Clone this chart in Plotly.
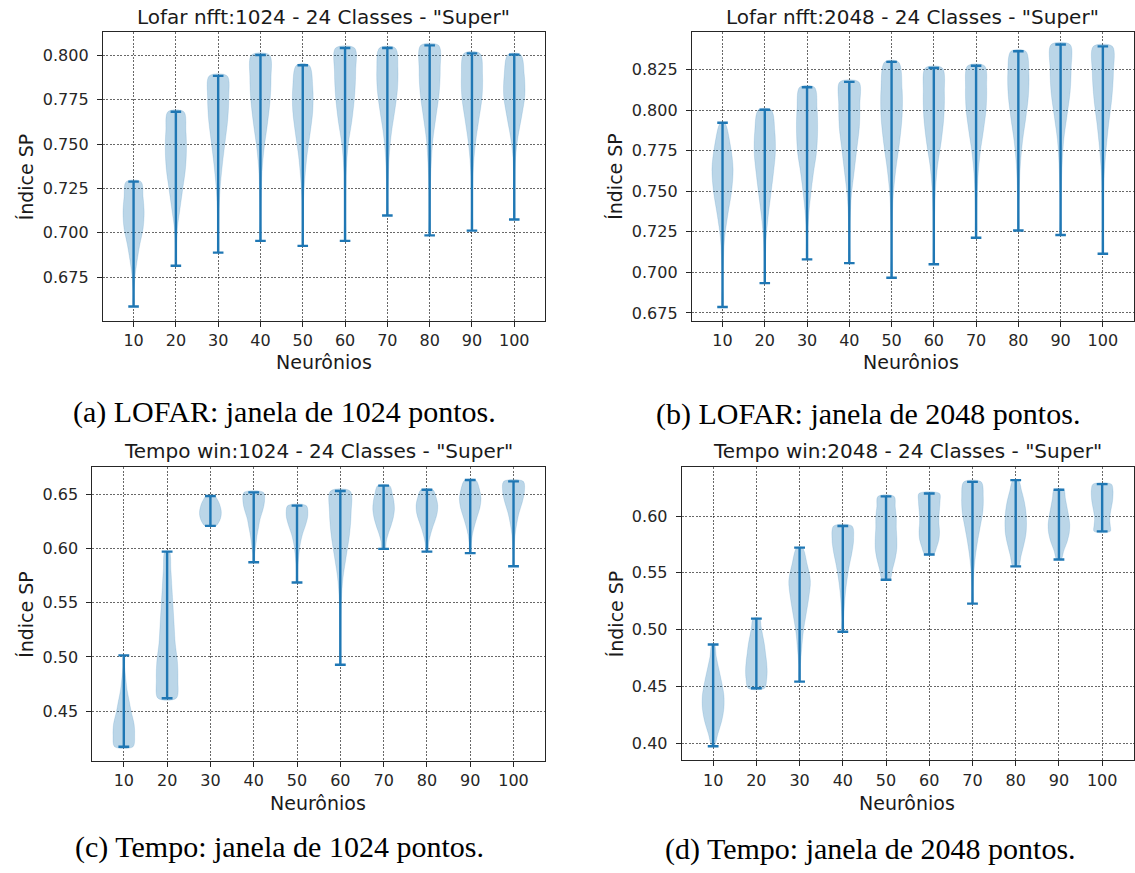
import plotly.graph_objects as go

# ---------------- data ----------------
NEURONS = ["10", "20", "30", "40", "50", "60", "70", "80", "90", "100"]
POSITIONS = [1, 2, 3, 4, 5, 6, 7, 8, 9, 10]

# (a) Lofar nfft:1024
A_MIN = [0.6584, 0.6814, 0.6888, 0.6954, 0.6926, 0.6954, 0.7097, 0.6985, 0.7012, 0.7075]
A_MAX = [0.7288, 0.7682, 0.7884, 0.8002, 0.7944, 0.8041, 0.8041, 0.8056, 0.8011, 0.8004]
# relative half-widths at 9 evenly spaced levels from min (first) to max (last)
A_SHAPE = [
    [0.03, 0.05, 0.15, 0.35, 0.60, 0.90, 1.00, 0.90, 0.70],
    [0.03, 0.05, 0.15, 0.40, 0.65, 0.90, 1.00, 0.95, 0.75],
    [0.03, 0.04, 0.08, 0.20, 0.40, 0.65, 0.90, 1.00, 0.85],
    [0.03, 0.04, 0.07, 0.15, 0.35, 0.65, 0.90, 1.00, 0.85],
    [0.03, 0.04, 0.07, 0.20, 0.40, 0.70, 0.95, 0.95, 0.60],
    [0.03, 0.04, 0.06, 0.12, 0.30, 0.65, 0.90, 1.00, 0.90],
    [0.03, 0.05, 0.10, 0.20, 0.40, 0.70, 0.95, 1.00, 0.75],
    [0.03, 0.04, 0.06, 0.15, 0.30, 0.60, 0.90, 1.00, 0.85],
    [0.03, 0.04, 0.06, 0.15, 0.35, 0.65, 0.95, 1.00, 0.75],
    [0.03, 0.04, 0.06, 0.12, 0.35, 0.70, 1.00, 0.95, 0.60],
]

# (b) Lofar nfft:2048
B_MIN = [0.6787, 0.6934, 0.7080, 0.7057, 0.6967, 0.7050, 0.7213, 0.7258, 0.7230, 0.7115]
B_MAX = [0.7922, 0.8002, 0.8141, 0.8174, 0.8297, 0.8260, 0.8273, 0.8363, 0.8404, 0.8393]
B_SHAPE = [
    [0.03, 0.04, 0.08, 0.20, 0.50, 0.85, 1.00, 0.75, 0.20],
    [0.03, 0.05, 0.12, 0.30, 0.55, 0.80, 1.00, 0.95, 0.60],
    [0.03, 0.05, 0.15, 0.35, 0.60, 0.90, 1.00, 0.95, 0.70],
    [0.03, 0.04, 0.08, 0.20, 0.45, 0.70, 0.95, 1.00, 0.90],
    [0.03, 0.04, 0.06, 0.15, 0.40, 0.75, 1.00, 1.00, 0.65],
    [0.03, 0.04, 0.07, 0.15, 0.35, 0.70, 0.95, 1.00, 0.80],
    [0.03, 0.05, 0.10, 0.20, 0.40, 0.70, 0.95, 1.00, 0.80],
    [0.03, 0.05, 0.10, 0.20, 0.40, 0.70, 0.95, 1.00, 0.70],
    [0.03, 0.04, 0.07, 0.15, 0.30, 0.60, 0.90, 1.00, 0.90],
    [0.03, 0.04, 0.06, 0.12, 0.30, 0.55, 0.85, 1.00, 0.90],
]

# (c) Tempo win:1024
C_MIN = [0.4172, 0.4620, 0.6209, 0.5874, 0.5687, 0.4929, 0.5997, 0.5972, 0.5958, 0.5837]
C_MAX = [0.5015, 0.5972, 0.6485, 0.6518, 0.6396, 0.6531, 0.6580, 0.6542, 0.6632, 0.6620]
C_SHAPE = [
    [0.85, 1.00, 0.95, 0.70, 0.50, 0.30, 0.18, 0.08, 0.04],
    [0.85, 1.00, 0.95, 0.75, 0.65, 0.55, 0.45, 0.35, 0.20],
    [0.50, 0.78, 0.93, 1.00, 1.00, 0.93, 0.82, 0.65, 0.40],
    [0.06, 0.10, 0.20, 0.30, 0.45, 0.60, 0.85, 1.00, 0.90],
    [0.04, 0.06, 0.10, 0.18, 0.30, 0.50, 0.80, 1.00, 0.85],
    [0.03, 0.04, 0.06, 0.10, 0.25, 0.55, 0.85, 1.00, 0.90],
    [0.15, 0.25, 0.45, 0.70, 0.90, 1.00, 0.95, 0.80, 0.55],
    [0.08, 0.15, 0.30, 0.50, 0.75, 0.95, 1.00, 0.85, 0.55],
    [0.05, 0.10, 0.20, 0.40, 0.65, 0.90, 1.00, 0.85, 0.50],
    [0.03, 0.05, 0.08, 0.15, 0.30, 0.50, 0.80, 1.00, 0.90],
]

# (d) Tempo win:2048
D_MIN = [0.3971, 0.4482, 0.4541, 0.4980, 0.5439, 0.5661, 0.5228, 0.5556, 0.5617, 0.5865]
D_MAX = [0.4868, 0.5096, 0.5722, 0.5912, 0.6173, 0.6199, 0.6301, 0.6316, 0.6231, 0.6281]
D_SHAPE = [
    [0.10, 0.45, 0.80, 1.00, 1.00, 0.80, 0.55, 0.30, 0.12],
    [0.75, 0.95, 1.00, 0.95, 0.85, 0.75, 0.60, 0.45, 0.30],
    [0.04, 0.08, 0.20, 0.35, 0.60, 0.85, 1.00, 0.70, 0.25],
    [0.05, 0.08, 0.15, 0.25, 0.40, 0.60, 0.85, 1.00, 0.85],
    [0.35, 0.60, 0.85, 1.00, 1.00, 0.95, 0.95, 0.85, 0.75],
    [0.40, 0.70, 0.90, 0.95, 0.90, 0.90, 0.95, 1.00, 0.95],
    [0.04, 0.06, 0.12, 0.25, 0.45, 0.70, 0.95, 1.00, 0.80],
    [0.25, 0.50, 0.75, 0.95, 1.00, 0.95, 0.80, 0.55, 0.25],
    [0.20, 0.45, 0.75, 0.95, 1.00, 0.90, 0.75, 0.60, 0.45],
    [0.75, 0.75, 0.70, 0.75, 0.85, 0.95, 1.00, 1.00, 0.85],
]

TITLES = ['Lofar nfft:1024 - 24 Classes - "Super"',
          'Lofar nfft:2048 - 24 Classes - "Super"',
          'Tempo win:1024 - 24 Classes - "Super"',
          'Tempo win:2048 - 24 Classes - "Super"']
CAPTIONS = ["(a) LOFAR: janela de 1024 pontos.",
            "(b) LOFAR: janela de 2048 pontos.",
            "(c) Tempo: janela de 1024 pontos.",
            "(d) Tempo: janela de 2048 pontos."]
X_LABEL = "Neurônios"
Y_LABEL = "Índice SP"

# ---------------- layout / style ----------------
W, H = 1135, 873
BLUE = "#1f77b4"
FILL = "rgba(31,119,180,0.3)"
SANS = "DejaVu Sans"
SERIF = "Liberation Serif"

PANELS = [
    dict(mins=A_MIN, maxs=A_MAX, shape=A_SHAPE, box=(103, 545.4, 32.3, 321.3),
         yr=[0.6505, 0.8130], dtick=0.025, fmt=".3f", t0=0.675,
         title_y=17, xlab=(324, 363), ylab=(26, 176.8), cap=(285, 413)),
    dict(mins=B_MIN, maxs=B_MAX, shape=B_SHAPE, box=(692.5, 1134.5, 32.3, 321.3),
         yr=[0.6703, 0.8480], dtick=0.025, fmt=".3f", t0=0.675,
         title_y=17, xlab=(912, 363), ylab=(616, 176.8), cap=(869, 415)),
    dict(mins=C_MIN, maxs=C_MAX, shape=C_SHAPE, box=(92.5, 545.4, 468.3, 762.3),
         yr=[0.4045, 0.6750], dtick=0.05, fmt=".2f", t0=0.45,
         title_y=452, xlab=(318, 805), ylab=(26, 615.3), cap=(280, 849)),
    dict(mins=D_MIN, maxs=D_MAX, shape=D_SHAPE, box=(682.4, 1134.5, 468.3, 762.0),
         yr=[0.3848, 0.6430], dtick=0.05, fmt=".2f", t0=0.40,
         title_y=452, xlab=(908, 805), ylab=(616, 615.3), cap=(871, 851)),
]

VIOLIN_HALF = 0.25   # matplotlib default width 0.5
CAP_HALF = 0.125

fig = go.Figure()
layout = dict(width=W, height=H, margin=dict(l=0, r=0, t=0, b=0),
              paper_bgcolor="white", plot_bgcolor="white", showlegend=False,
              font=dict(family=SANS, color="#262626"))
annotations = []


def px_x(v):
    return v / W


def px_y(v):
    return 1 - v / H


for i, p in enumerate(PANELS):
    k = "" if i == 0 else str(i + 1)
    xa, ya = "x" + k, "y" + k
    x0, x1, y0, y1 = p["box"]

    # violin bodies
    for pos, lo, hi, prof in zip(POSITIONS, p["mins"], p["maxs"], p["shape"]):
        n = len(prof)
        ys = [lo + (hi - lo) * j / (n - 1) for j in range(n)]
        xr = [pos + VIOLIN_HALF * w for w in prof]
        xl = [pos - VIOLIN_HALF * w for w in prof]
        fig.add_trace(go.Scatter(
            x=xr + xl[::-1] + [xr[0]], y=ys + ys[::-1] + [ys[0]],
            mode="lines", fill="toself", fillcolor=FILL,
            line=dict(color="rgba(31,119,180,0.25)", width=0.6, shape="spline", smoothing=0.9),
            hoverinfo="skip", xaxis=xa, yaxis=ya))

    # extrema bars
    ex, ey = [], []
    for pos, lo, hi in zip(POSITIONS, p["mins"], p["maxs"]):
        ex += [pos, pos, None, pos - CAP_HALF, pos + CAP_HALF, None, pos - CAP_HALF, pos + CAP_HALF, None]
        ey += [lo, hi, None, hi, hi, None, lo, lo, None]
    fig.add_trace(go.Scatter(x=ex, y=ey, mode="lines", line=dict(color=BLUE, width=2.4),
                             hoverinfo="skip", xaxis=xa, yaxis=ya))

    axis_common = dict(showgrid=True, gridcolor="rgba(40,40,40,0.7)", gridwidth=0.8,
                       griddash="2px,1.5px", showline=True, linecolor="#262626", linewidth=1.2,
                       mirror=True, ticks="outside", ticklen=5, tickwidth=1.2, tickcolor="#262626",
                       tickfont=dict(family=SANS, size=16, color="#262626"), zeroline=False,
                       fixedrange=True)
    layout["xaxis" + k] = dict(axis_common, domain=[px_x(x0), px_x(x1)], range=[0.275, 10.725],
                               tickmode="array", tickvals=POSITIONS, ticktext=NEURONS,
                               anchor=ya, ticklabelstandoff=0)
    layout["yaxis" + k] = dict(axis_common, domain=[px_y(y1), px_y(y0)], range=p["yr"],
                               tick0=p["t0"], dtick=p["dtick"], tickformat=p["fmt"],
                               anchor=xa, ticklabelstandoff=5)

    cx = (x0 + x1) / 2
    annotations.append(dict(text=TITLES[i], x=px_x(cx), y=px_y(p["title_y"]), xref="paper", yref="paper",
                            xanchor="center", yanchor="middle", showarrow=False,
                            font=dict(family=SANS, size=20, color="#1a1a1a")))
    annotations.append(dict(text=X_LABEL, x=px_x(p["xlab"][0]), y=px_y(p["xlab"][1]), xref="paper",
                            yref="paper", xanchor="center", yanchor="middle", showarrow=False,
                            font=dict(family=SANS, size=19, color="#1a1a1a")))
    annotations.append(dict(text=Y_LABEL, x=px_x(p["ylab"][0]), y=px_y(p["ylab"][1]), xref="paper",
                            yref="paper", xanchor="center", yanchor="middle", textangle=-90,
                            showarrow=False, font=dict(family=SANS, size=19, color="#1a1a1a")))
    annotations.append(dict(text=CAPTIONS[i], x=px_x(p["cap"][0]), y=px_y(p["cap"][1]), xref="paper",
                            yref="paper", xanchor="center", yanchor="middle", showarrow=False,
                            font=dict(family=SERIF, size=30, color="black")))

layout["annotations"] = annotations
fig.update_layout(**layout)
fig.write_html("out.html")
